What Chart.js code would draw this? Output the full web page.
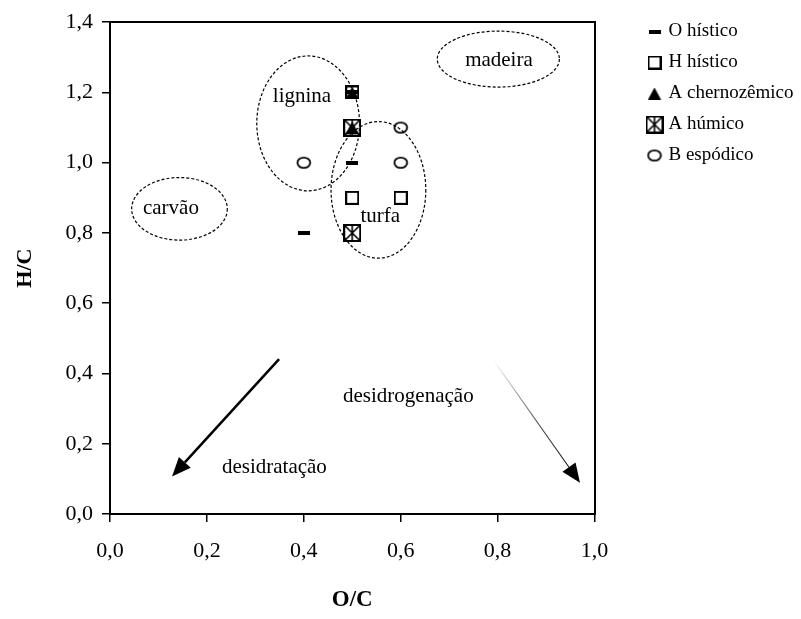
<!DOCTYPE html>
<html lang="pt">
<head>
<meta charset="utf-8">
<title>Diagrama H/C x O/C</title>
<script src="https://cdn.jsdelivr.net/npm/chart.js@4.4.1/dist/chart.umd.min.js"></script>
<style>
  html, body { margin: 0; padding: 0; background: #fff; }
  #wrap { width: 801px; height: 619px; position: relative; }
</style>
</head>
<body>
<div id="wrap"><canvas id="vk-chart"></canvas></div>
<script>
// Razões atômicas O/C (x) e H/C (y) por horizonte
const xTicks = [0, 0.2, 0.4, 0.6, 0.8, 1.0];
const yTicks = [0, 0.2, 0.4, 0.6, 0.8, 1.0, 1.2, 1.4];

const oHisticoOC = [0.5, 0.5, 0.4];
const oHisticoHC = [1.2, 1.0, 0.8];
const hHisticoOC = [0.5, 0.5, 0.6];
const hHisticoHC = [1.2, 0.9, 0.9];
const aChernoOC = [0.5, 0.5];
const aChernoHC = [1.2, 1.1];
const aHumicoOC = [0.5, 0.5];
const aHumicoHC = [1.1, 0.8];
const bEspodicoOC = [0.4, 0.6, 0.6];
const bEspodicoHC = [1.0, 1.0, 1.1];

// regiões (elipses tracejadas) e setas de desidratação / desidrogenação
const regioes = [
  { nome: 'lignina', cx: 0.409, cy: 1.112, rx: 0.106, ry: 0.192, tx: 0.336, ty: 1.174 },
  { nome: 'carvão', cx: 0.1434, cy: 0.8687, rx: 0.0987, ry: 0.0891, tx: 0.068, ty: 0.855 },
  { nome: 'turfa', cx: 0.554, cy: 0.9227, rx: 0.0978, ry: 0.1945, tx: 0.517, ty: 0.832 },
  { nome: 'madeira', cx: 0.8015, cy: 1.295, rx: 0.126, ry: 0.0797, tx: 0.733, ty: 1.276 },
];
const rotulos = [
  { nome: 'desidrogenação', tx: 0.481, ty: 0.319 },
  { nome: 'desidratação', tx: 0.231, ty: 0.116 },
];
const setas = [
  { de: [0.349, 0.441], para: [0.128, 0.107], largura: 2.5, degrade: false },
  { de: [0.791, 0.439], para: [0.970, 0.089], largura: 1.1, degrade: true },
];

const fmt = v => Number(v).toFixed(1).replace('.', ',');
const pares = (xs, ys) => xs.map((x, i) => ({ x, y: ys[i] }));

function marker(w, h, draw) {
  const c = document.createElement('canvas');
  c.width = w;
  c.height = h;
  const g = c.getContext('2d');
  g.strokeStyle = '#000';
  g.fillStyle = '#000';
  draw(g);
  return c;
}

const dash = marker(12, 4, g => g.fillRect(0, 0, 12, 4));
const square = marker(14, 14, g => { g.lineWidth = 2; g.strokeRect(1, 1, 12, 12); });
const triangle = marker(14, 12, g => {
  g.beginPath(); g.moveTo(7, 0); g.lineTo(13.5, 12); g.lineTo(0.5, 12); g.closePath(); g.fill();
});
const boxStar = marker(18, 18, g => {
  g.lineWidth = 2; g.strokeRect(1, 1, 16, 16);
  g.lineWidth = 1.6;
  g.beginPath();
  g.moveTo(2, 2); g.lineTo(16, 16);
  g.moveTo(16, 2); g.lineTo(2, 16);
  g.moveTo(9, 2); g.lineTo(9, 16);
  g.stroke();
});
const ring = marker(16, 14, g => {
  g.lineWidth = 1.8; g.beginPath(); g.ellipse(8, 7, 6.4, 5.2, 0, 0, Math.PI * 2); g.stroke();
});

function seta(ctx, x0, y0, x1, y1, lw, stroke, head, half) {
  const ang = Math.atan2(y1 - y0, x1 - x0);
  const bx = x1 - head * Math.cos(ang), by = y1 - head * Math.sin(ang);
  ctx.lineWidth = lw;
  ctx.strokeStyle = stroke;
  ctx.beginPath(); ctx.moveTo(x0, y0); ctx.lineTo(bx, by); ctx.stroke();
  ctx.beginPath();
  ctx.moveTo(x1, y1);
  ctx.lineTo(bx + half * Math.sin(ang), by - half * Math.cos(ang));
  ctx.lineTo(bx - half * Math.sin(ang), by + half * Math.cos(ang));
  ctx.closePath();
  ctx.fill();
}

const anotacoes = {
  id: 'anotacoes',
  afterDatasetsDraw(chart) {
    const { ctx, scales: { x, y } } = chart;
    const px = v => x.getPixelForValue(v), py = v => y.getPixelForValue(v);
    ctx.save();
    ctx.strokeStyle = '#000';
    ctx.fillStyle = '#000';
    ctx.lineWidth = 1.2;
    ctx.setLineDash([3, 2]);
    regioes.forEach(r => {
      const cx = px(r.cx), cy = py(r.cy);
      const rx = Math.abs(px(r.cx + r.rx) - cx), ry = Math.abs(py(r.cy + r.ry) - cy);
      ctx.beginPath();
      ctx.ellipse(cx, cy, rx, ry, 0, 0, Math.PI * 2);
      ctx.stroke();
    });
    ctx.setLineDash([]);
    ctx.font = '21px "Liberation Serif"';
    ctx.textAlign = 'left';
    ctx.textBaseline = 'alphabetic';
    [...regioes, ...rotulos].forEach(t => ctx.fillText(t.nome, px(t.tx), py(t.ty)));
    setas.forEach(s => {
      const x0 = px(s.de[0]), y0 = py(s.de[1]), x1 = px(s.para[0]), y1 = py(s.para[1]);
      let stroke = '#000';
      if (s.degrade) {
        stroke = ctx.createLinearGradient(x0, y0, x1, y1);
        stroke.addColorStop(0, 'rgba(0,0,0,0)');
        stroke.addColorStop(0.5, 'rgba(0,0,0,0.7)');
        stroke.addColorStop(1, '#000');
      }
      seta(ctx, x0, y0, x1, y1, s.largura, stroke, 19, 8);
    });
    ctx.restore();
  },
};

Chart.defaults.font.family = '"Liberation Serif", "Times New Roman", serif';
Chart.defaults.color = '#000';

const serie = (label, data, pointStyle) => ({
  label, data, pointStyle, pointRadius: 7, showLine: false,
  borderColor: '#000', backgroundColor: '#000',
});

const tickGrid = { drawOnChartArea: false, drawTicks: true, tickLength: 8, lineWidth: 1.5, color: '#000' };
const frame = { display: true, width: 2, color: '#000' };

new Chart(document.getElementById('vk-chart'), {
  type: 'scatter',
  data: {
    datasets: [
      serie('O hístico', pares(oHisticoOC, oHisticoHC), dash),
      serie('H hístico', pares(hHisticoOC, hHisticoHC), square),
      serie('A chernozêmico', pares(aChernoOC, aChernoHC), triangle),
      serie('A húmico', pares(aHumicoOC, aHumicoHC), boxStar),
      serie('B espódico', pares(bEspodicoOC, bEspodicoHC), ring),
    ],
  },
  options: {
    responsive: true,
    maintainAspectRatio: false,
    animation: false,
    events: [],
    layout: { padding: { top: 10, right: 0, bottom: 0, left: 0 } },
    plugins: {
      tooltip: { enabled: false },
      legend: {
        position: 'right',
        align: 'start',
        maxWidth: 163,
        labels: {
          usePointStyle: true,
          boxWidth: 9,
          boxHeight: 9,
          padding: 12,
          color: '#000',
          font: { size: 19 },
        },
      },
    },
    scales: {
      x: {
        min: 0,
        max: 1,
        afterBuildTicks: s => { s.ticks = xTicks.map(value => ({ value })); },
        afterFit: s => { s.height = 105; },
        ticks: { callback: fmt, padding: 16, font: { size: 22 }, autoSkip: false, maxRotation: 0 },
        grid: tickGrid,
        border: frame,
        title: { display: true, text: 'O/C', font: { size: 23, weight: 'bold' }, padding: { top: 0, bottom: 5 } },
      },
      y: {
        min: 0,
        max: 1.4,
        afterBuildTicks: s => { s.ticks = yTicks.map(value => ({ value })); },
        afterFit: s => { s.width = 110; },
        ticks: { callback: fmt, padding: 9, font: { size: 22 }, autoSkip: false },
        grid: tickGrid,
        border: frame,
        title: { display: true, text: 'H/C', font: { size: 22, weight: 'bold' }, padding: { top: 12, bottom: 0 } },
      },
      x2: {
        type: 'linear',
        position: 'top',
        afterFit: s => { s.height = 6; },
        ticks: { display: false },
        grid: { display: false },
        border: frame,
      },
      y2: {
        type: 'linear',
        position: 'right',
        afterFit: s => { s.width = 43.5; },
        ticks: { display: false },
        grid: { display: false },
        border: frame,
      },
    },
  },
  plugins: [anotacoes],
});
</script>
</body>
</html>
